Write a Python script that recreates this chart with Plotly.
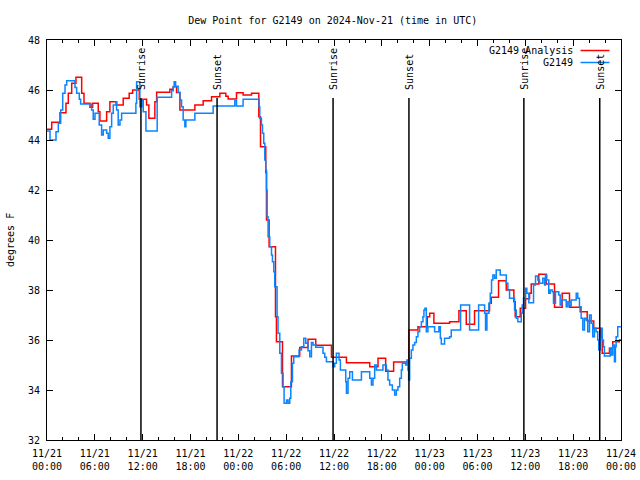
import plotly.graph_objects as go
import pandas as pd

START = "2024-11-21 00:00"

# G2149 Analysis (red) - hours since start, degrees F
analysis_hours = [0.00, 0.59, 1.63, 2.38, 2.67, 3.10, 3.63, 4.35, 4.64, 5.39, 5.73, 6.43, 6.64,
                  7.48, 7.89, 8.73, 9.56, 10.31, 10.74, 11.57, 12.49, 12.78, 13.53, 13.75, 15.41,
                  15.83, 16.25, 16.67, 18.55, 19.59, 20.64, 21.68, 22.43, 22.72, 23.77, 24.60,
                  25.65, 26.57, 26.78, 27.44, 27.53, 27.86, 28.66, 28.78, 29.54, 30.66, 31.70,
                  32.74, 33.71, 35.68, 37.56, 40.48, 41.52, 42.48, 43.48, 45.40, 46.53, 47.71,
                  48.00, 48.53, 50.50, 51.67, 52.59, 53.63, 55.51, 55.73, 56.64, 57.61, 58.56,
                  58.73, 59.36, 60.03, 60.53, 60.74, 61.69, 62.62, 63.66, 64.62, 65.54, 66.88,
                  67.76, 68.58, 69.42, 69.64, 70.55, 70.96, 71.80, 72.00]
analysis_values = [44.43, 44.71, 45.09, 45.47, 45.87, 46.27, 46.51, 45.87, 45.47, 45.31, 45.47, 45.13, 44.76,
                   45.13, 45.53, 45.40, 45.67, 45.87, 46.00, 45.63, 45.40, 44.87, 45.53, 45.91, 46.03,
                   46.13, 45.90, 45.20, 45.40, 45.57, 45.73, 45.87, 45.75, 45.64, 45.89, 45.80,
                   45.87, 44.93, 43.73, 42.70, 40.80, 39.73, 36.93, 35.93, 34.13, 35.36, 35.70,
                   36.03, 35.79, 35.31, 35.09, 34.93, 35.27, 34.75, 35.12, 36.40, 36.53, 36.93,
                   37.07, 36.67, 36.73, 37.17, 36.63, 37.17, 37.47, 37.71, 38.37, 38.00, 37.53,
                   36.93, 37.27, 37.65, 37.87, 38.24, 38.63, 38.24, 37.31, 37.87, 37.31, 37.13,
                   36.76, 36.47, 36.13, 35.47, 35.67, 35.93, 36.00, 36.00]

# G2149 observations (blue)
obs_hours = [0.00, 0.38, 1.13, 1.42, 1.72, 1.97, 2.26, 2.47, 3.51, 3.72, 4.05, 4.22, 5.60, 5.80,
             6.02, 6.55, 6.85, 7.06, 7.48, 7.68, 7.89, 8.11, 8.31, 8.65, 8.73, 8.93, 9.15, 9.36,
             11.15, 11.24, 11.65, 11.87, 12.07, 12.41, 13.82, 15.63, 15.83, 15.95, 16.13, 16.45,
             16.67, 16.88, 17.08, 17.29, 17.42, 18.55, 20.84, 23.56, 23.77, 24.60, 26.60, 26.69,
             26.90, 27.03, 27.19, 27.32, 27.44, 27.53, 27.61, 27.73, 27.94, 28.16, 28.28, 28.45,
             28.57, 28.86, 28.98, 29.20, 29.41, 29.61, 29.74, 30.04, 30.24, 30.45, 30.58, 30.79,
             30.95, 31.62, 31.92, 32.21, 32.46, 32.74, 32.96, 33.17, 33.37, 33.71, 34.62, 34.84,
             35.05, 35.88, 36.09, 36.30, 36.63, 36.80, 37.47, 37.56, 37.76, 37.97, 38.31, 39.44,
             40.48, 40.69, 40.89, 41.10, 41.32, 42.14, 42.57, 42.77, 42.98, 43.32, 43.61, 43.82,
             44.02, 44.24, 44.45, 44.57, 44.99, 45.15, 45.28, 45.36, 45.49, 45.70, 45.90, 46.12,
             46.33, 46.53, 46.74, 46.96, 47.16, 47.28, 47.41, 47.58, 47.78, 48.62, 49.16, 49.34,
             49.46, 49.87, 50.50, 50.71, 51.88, 53.01, 54.14, 54.89, 55.01, 55.18, 55.43, 55.60,
             55.76, 55.93, 56.14, 56.35, 56.85, 57.61, 57.81, 58.02, 58.65, 58.86, 59.06, 59.49,
             59.61, 59.77, 60.03, 60.19, 60.44, 61.03, 61.28, 61.57, 61.78, 62.19, 62.41, 62.53,
             62.69, 62.94, 63.12, 63.37, 63.53, 63.78, 64.20, 64.37, 64.57, 65.13, 65.33, 65.54,
             65.75, 66.38, 66.58, 66.79, 67.00, 67.21, 67.42, 67.63, 67.83, 68.05, 68.26, 68.46,
             68.67, 68.88, 69.08, 69.21, 69.39, 69.51, 69.64, 69.80, 69.92, 70.64, 70.76, 70.96,
             71.18, 71.30, 71.39, 71.59, 72.00]
obs_values = [44.36, 44.00, 44.33, 44.67, 45.20, 45.87, 46.20, 46.37, 46.10, 45.87, 45.63, 45.44, 45.20, 44.83,
              45.07, 44.60, 44.20, 44.40, 44.27, 44.07, 44.53, 45.07, 45.40, 45.53, 45.20, 44.60, 44.80, 45.07,
              45.47, 46.33, 45.33, 45.60, 45.13, 44.36, 45.71, 45.97, 46.13, 46.33, 46.15, 45.90,
              45.60, 45.33, 44.80, 44.53, 44.80, 45.07, 45.36, 45.57, 45.36, 45.63, 45.33, 44.87,
              44.60, 44.27, 43.87, 43.20, 42.80, 42.00, 40.93, 40.13, 39.73, 39.40, 39.13, 38.73,
              38.13, 36.93, 36.27, 35.47, 34.67, 34.13, 33.47, 33.60, 33.47, 33.67, 34.33, 35.07,
              35.33, 35.60, 35.73, 36.07, 35.87, 35.57, 35.33, 35.90, 35.80, 35.71, 35.47, 35.31,
              35.13, 34.93, 35.07, 35.47, 35.20, 34.80, 34.33, 33.87, 34.47, 34.73, 34.40, 34.73,
              34.47, 34.20, 34.47, 35.00, 34.80, 35.00, 34.80, 34.40, 34.20, 34.00, 33.80, 34.00,
              34.13, 34.47, 34.80, 35.07, 35.00, 35.20, 34.80, 34.40, 35.27, 35.60, 35.80, 35.90,
              36.13, 36.33, 36.53, 36.73, 36.93, 37.20, 37.27, 36.33, 36.53, 36.33, 36.53, 36.07,
              35.84, 36.07, 36.13, 36.40, 37.40, 36.40, 37.40, 37.07, 36.40, 37.07, 37.47, 37.87,
              38.40, 38.60, 38.47, 38.80, 38.60, 38.27, 38.00, 37.67, 37.20, 36.87, 36.73, 37.07,
              37.40, 37.67, 38.07, 37.87, 37.49, 38.20, 38.56, 38.40, 38.27, 38.47, 38.20, 38.60,
              38.40, 37.87, 38.00, 37.93, 37.47, 37.93, 37.80, 37.40, 37.60, 37.33, 37.53, 37.36,
              37.60, 37.87, 37.67, 37.33, 36.87, 36.40, 36.87, 36.80, 36.33, 37.00, 36.67, 36.13,
              36.47, 36.33, 36.00, 35.60, 36.13, 36.47, 36.00, 35.73, 35.36, 35.67, 35.40, 35.80,
              35.13, 35.73, 36.13, 36.53, 36.53]

event_labels = ["Sunrise", "Sunset", "Sunrise", "Sunset", "Sunrise", "Sunset"]
event_times = ["2024-11-21 11:47", "2024-11-21 21:20", "2024-11-22 11:53",
               "2024-11-22 21:24", "2024-11-23 11:49", "2024-11-23 21:20"]

x_tick_times = ["2024-11-21 00:00", "2024-11-21 06:00", "2024-11-21 12:00", "2024-11-21 18:00",
                "2024-11-22 00:00", "2024-11-22 06:00", "2024-11-22 12:00", "2024-11-22 18:00",
                "2024-11-23 00:00", "2024-11-23 06:00", "2024-11-23 12:00", "2024-11-23 18:00",
                "2024-11-24 00:00"]
x_tick_labels = ["11/21<br>00:00", "11/21<br>06:00", "11/21<br>12:00", "11/21<br>18:00",
                 "11/22<br>00:00", "11/22<br>06:00", "11/22<br>12:00", "11/22<br>18:00",
                 "11/23<br>00:00", "11/23<br>06:00", "11/23<br>12:00", "11/23<br>18:00",
                 "11/24<br>00:00"]
y_ticks = [32, 34, 36, 38, 40, 42, 44, 46, 48]

series_names = ["G2149 Analysis", "G2149"]
series_colors = ["#ff0000", "#0a84ff"]

t0 = pd.Timestamp(START)
ax = [t0 + pd.Timedelta(hours=h) for h in analysis_hours]
ox = [t0 + pd.Timedelta(hours=h) for h in obs_hours]

FONT = "DejaVu Sans Mono"
fig = go.Figure()
fig.add_trace(go.Scatter(x=ax, y=analysis_values, mode="lines", line_shape="hv",
                         line=dict(color=series_colors[0], width=1.5), name=series_names[0]))
fig.add_trace(go.Scatter(x=ox, y=obs_values, mode="lines", line_shape="hv",
                         line=dict(color=series_colors[1], width=1.5), name=series_names[1]))

FIG_W, FIG_H = 640, 480
W = 574.5
H = 400.0
L, T = 47, 40   # position of the plot area

def px_x(p):
    return (p - L) / W

def px_y(p):
    return (T + H - p) / H

shapes = []
annotations = []
for lab, tm in zip(event_labels, event_times):
    shapes.append(dict(type="line", xref="x", yref="paper", x0=tm, x1=tm,
                       y0=0, y1=px_y(98), line=dict(color="black", width=1.5)))
    annotations.append(dict(text=lab, x=tm, xref="x", yref="paper", y=px_y(92),
                            yanchor="bottom", xanchor="center", textangle=-90, showarrow=False,
                            font=dict(family=FONT, size=10, color="black")))

# Key (text right-aligned, sample line to its right, like gnuplot)
for i, (nm, col) in enumerate(zip(series_names, series_colors)):
    yy = 50.5 + 12 * i
    annotations.append(dict(text=nm, xref="paper", yref="paper", x=px_x(575), y=px_y(yy),
                            xanchor="right", yanchor="middle", showarrow=False,
                            font=dict(family=FONT, size=10, color="black")))
    shapes.append(dict(type="line", xref="paper", yref="paper", x0=px_x(581), x1=px_x(610),
                       y0=px_y(yy), y1=px_y(yy), line=dict(color=col, width=1.5)))

annotations.append(dict(text="degrees F", xref="paper", yref="paper", x=px_x(10), y=0.5,
                        textangle=-90, showarrow=False, xanchor="center", yanchor="middle",
                        font=dict(family=FONT, size=10, color="black")))

fig.update_layout(
    template="none",
    width=FIG_W, height=FIG_H, autosize=False,
    margin=dict(l=L, r=FIG_W - L - W, t=T, b=FIG_H - T - H, pad=0),
    paper_bgcolor="white", plot_bgcolor="white",
    showlegend=False,
    font=dict(family=FONT, size=10, color="black"),
    title=dict(text="Dew Point for G2149 on 2024-Nov-21 (time in UTC)", x=px_x(333), xref="paper",
               xanchor="center", y=1 - 20 / FIG_H, yanchor="middle",
               font=dict(family=FONT, size=10, color="black")),
    shapes=shapes, annotations=annotations,
)
fig.update_xaxes(type="date", range=[x_tick_times[0], x_tick_times[-1]], automargin=False,
                 tickvals=x_tick_times, ticktext=x_tick_labels, ticklabelstandoff=4,
                 ticks="inside", ticklen=6, tickcolor="black", tickwidth=1,
                 showline=True, linecolor="black", linewidth=1, mirror="allticks",
                 showgrid=False, zeroline=False,
                 minor=dict(dtick=2 * 3600 * 1000, tick0=x_tick_times[0], ticks="inside",
                            ticklen=3, tickcolor="black", showgrid=False),
                 tickfont=dict(family=FONT, size=10, color="black"))
fig.update_yaxes(range=[32, 48], automargin=False, tickvals=y_ticks, ticktext=[str(v) for v in y_ticks],
                 ticklabelstandoff=4,
                 ticks="inside", ticklen=6, tickcolor="black", tickwidth=1,
                 showline=True, linecolor="black", linewidth=1, mirror="allticks",
                 showgrid=False, zeroline=False,
                 tickfont=dict(family=FONT, size=10, color="black"))

fig.write_html("out.html", config={"responsive": False, "displayModeBar": False},
               post_script="document.body.style.margin='0px';document.body.style.overflow='hidden';")
